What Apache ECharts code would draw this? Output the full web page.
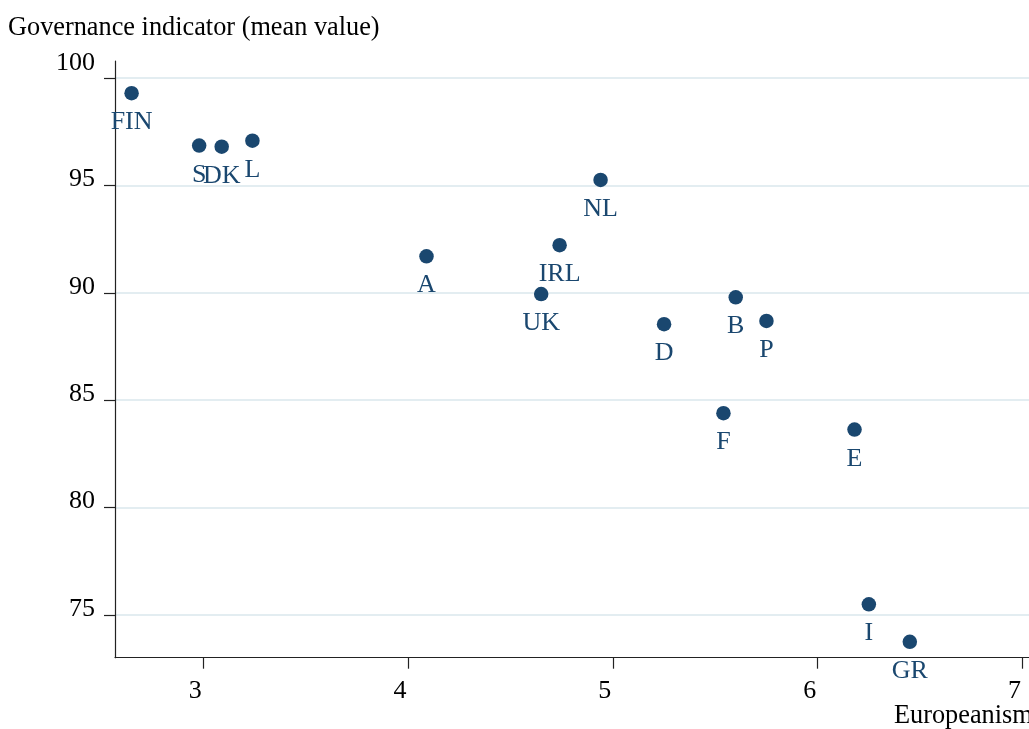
<!DOCTYPE html>
<html>
<head>
<meta charset="utf-8">
<script src="https://cdn.jsdelivr.net/npm/echarts@6/dist/echarts.min.js"></script>
<style>
html,body{margin:0;padding:0;background:#fff;}
#chart{width:1029px;height:729px;}
</style>
</head>
<body>
<div id="chart"></div>
<script>
const countries = ['FIN','S','DK','L','A','IRL','UK','NL','D','B','P','F','E','I','GR'];
const europeanism = [2.65,2.98,3.09,3.24,4.09,4.74,4.65,4.94,5.25,5.60,5.75,5.54,6.18,6.25,6.45];
const governance = [99.30,96.86,96.81,97.09,91.70,92.22,89.94,95.26,88.54,89.79,88.69,84.39,83.63,75.49,73.74];
const xTicks = [3,4,5,6,7];
const yTicks = [75,80,85,90,95,100];
const yTitle = 'Governance indicator (mean value)';
const xTitle = 'Europeanism';

const FONT = '"Liberation Serif", "Times New Roman", serif';
const NAVY = '#1a476f';

const points = countries.map((c, i) => ({ name: c, value: [europeanism[i], governance[i]] }));

const chart = echarts.init(document.getElementById('chart'), null, { renderer: 'canvas' });
chart.setOption({
  backgroundColor: '#ffffff',
  animation: false,
  grid: { left: 115, top: 61, right: 0, bottom: 71.3, containLabel: false },
  xAxis: {
    type: 'value',
    min: 2.569,
    max: 7.032,
    axisLine: { show: true, onZero: false, lineStyle: { color: '#222', width: 1.2 } },
    axisTick: { show: true, length: 11, customValues: xTicks, lineStyle: { color: '#222', width: 1.2 } },
    axisLabel: {
      customValues: xTicks,
      margin: 20,
      color: '#000',
      fontFamily: FONT,
      fontSize: 26,
      padding: [0, 16, 0, 0]
    },
    splitLine: { show: false }
  },
  yAxis: {
    type: 'value',
    min: 73,
    max: 100.8,
    axisLine: { show: true, onZero: false, lineStyle: { color: '#222', width: 1.2 } },
    axisTick: { show: true, length: 11, customValues: yTicks, lineStyle: { color: '#222', width: 1.2 } },
    axisLabel: {
      customValues: yTicks,
      margin: 20,
      color: '#000',
      fontFamily: FONT,
      fontSize: 26,
      padding: [0, 0, 12, 0],
      formatter: function (v) { return v === 100 ? '{t|100}' : String(v); },
      rich: {
        t: { fontFamily: FONT, fontSize: 26, color: '#000', padding: [0, 0, 18, 0] }
      }
    },
    splitLine: { show: true, lineStyle: { color: '#e3edf1', width: 1.8 } }
  },
  graphic: [
    { type: 'text', left: 8, top: 15, style: { text: yTitle, fontFamily: FONT, fontSize: 26.3, fill: '#000' } },
    { type: 'text', left: 894, top: 703, style: { text: xTitle, fontFamily: FONT, fontSize: 26.3, fill: '#000' } }
  ],
  series: [{
    type: 'scatter',
    data: points,
    symbol: 'circle',
    symbolSize: 14.5,
    itemStyle: { color: NAVY, opacity: 1 },
    label: {
      show: true,
      position: 'bottom',
      distance: 9,
      formatter: '{b}',
      color: NAVY,
      fontFamily: FONT,
      fontSize: 26
    },
    labelLayout: { hideOverlap: false },
    emphasis: { disabled: true }
  }]
});
</script>
</body>
</html>
